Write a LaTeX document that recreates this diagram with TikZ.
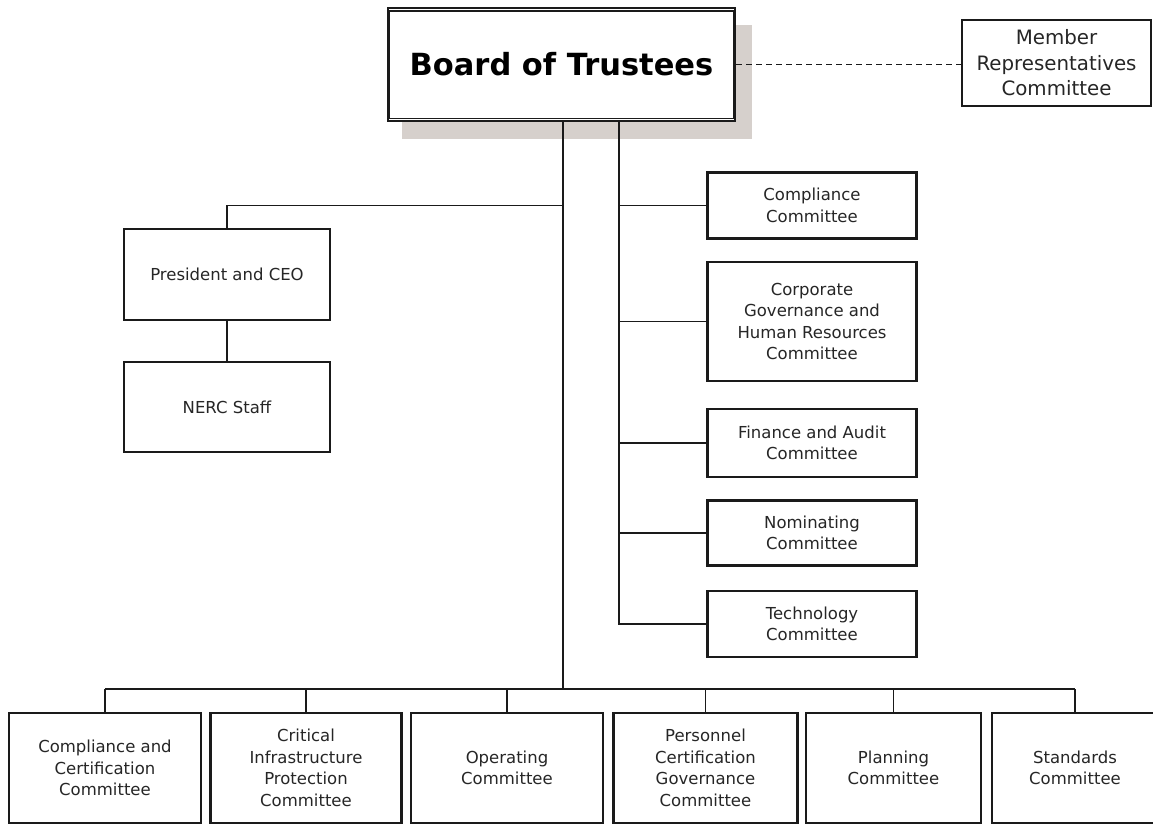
\documentclass[tikz,border=0pt]{standalone}
\usepackage{fontspec}
\setmainfont{DejaVu Sans}
\definecolor{shadowc}{HTML}{D6D0CC}
\definecolor{linec}{HTML}{1A1A1A}
\definecolor{textc}{HTML}{262626}
\tikzset{
  conn/.style={draw=linec, line width=1.9pt},
  box/.style={draw=linec, line width=2.2pt, fill=white, rectangle, inner sep=0pt,
    align=center, text=textc, font=\fontsize{16.5}{21.5}\selectfont},
  memberbox/.style={box, font=\fontsize{19.8}{25.5}\selectfont},
  boardbox/.style={draw=linec, line width=2.6pt, fill=white, rectangle, inner sep=0pt,
    align=center, text=black, font=\fontsize{30.5}{36}\selectfont\bfseries},
  dashconn/.style={draw=linec, line width=1.7pt, dash pattern=on 6pt off 4pt}
}
\begin{document}
\begin{tikzpicture}[x=1pt,y=-1pt]
\useasboundingbox (0,0) rectangle (1153,823);
\clip (0,0) rectangle (1153,823);
\fill[white] (0,0) rectangle (1153,823);

% shadow of board
\fill[shadowc] (402,25) rectangle (752,139);

% board
\node[boardbox, minimum width=347pt, minimum height=113pt] (board) at (561.5,64.5) {Board of Trustees};
\draw[linec, line width=1.2pt] ([xshift=2.5pt,yshift=-4.2pt]board.north west) rectangle ([xshift=-2.5pt,yshift=4.2pt]board.south east);

% member representatives
\node[memberbox, minimum width=189pt, minimum height=86pt] (member) at (1056.5,63) {Member\\Representatives\\Committee};
\draw[dashconn] (board.east) -- (board.east -| member.west);

% left column
\node[box, minimum width=206pt, minimum height=91pt] (president) at (227,274.5) {President and CEO};
\node[box, minimum width=206pt, minimum height=90pt] (staff) at (227,407) {NERC Staff};

% right committees
\node[box, minimum width=209pt, minimum height=66pt] (compliance) at (812,205.5) {Compliance\\Committee};
\node[box, minimum width=209pt, minimum height=119pt] (corporate) at (812,321.5) {Corporate\\Governance and\\Human Resources\\Committee};
\node[box, minimum width=209pt, minimum height=68pt] (finance) at (812,443) {Finance and Audit\\Committee};
\node[box, minimum width=209pt, minimum height=65pt] (nominating) at (812,533) {Nominating\\Committee};
\node[box, minimum width=209pt, minimum height=66pt] (technology) at (812,624) {Technology\\Committee};

% bottom row
\node[box, minimum width=192pt, minimum height=110pt] (cc) at (105,768) {Compliance and\\Certification\\Committee};
\node[box, minimum width=191pt, minimum height=110pt] (cip) at (306,768) {Critical\\Infrastructure\\Protection\\Committee};
\node[box, minimum width=192pt, minimum height=110pt] (oc) at (507,768) {Operating\\Committee};
\node[box, minimum width=184pt, minimum height=110pt] (pcg) at (705.5,768) {Personnel\\Certification\\Governance\\Committee};
\node[box, minimum width=175pt, minimum height=110pt] (pc) at (893.5,768) {Planning\\Committee};
\node[box, minimum width=166pt, minimum height=110pt] (sc) at (1075,768) {Standards\\Committee};

% connectors
\coordinate (trunk) at ([xshift=1.5pt]board.south);
\coordinate (rtrunk) at ([xshift=57.5pt]board.south);
\coordinate (bus) at (563,689);

\draw[conn] (trunk) -- (trunk |- bus);
\draw[conn] (president.north) |- (trunk |- compliance.west);
\draw[conn] (president.south) -- (staff.north);

\draw[conn] (rtrunk) |- (technology.west);
\draw[conn] (rtrunk |- compliance.west) -- (compliance.west);
\draw[conn] (rtrunk |- corporate.west) -- (corporate.west);
\draw[conn] (rtrunk |- finance.west) -- (finance.west);
\draw[conn] (rtrunk |- nominating.west) -- (nominating.west);

\draw[conn] (cc.north |- bus) -- (sc.north |- bus);
\foreach \b in {cc,cip,oc,pcg,pc,sc}{
  \draw[conn] (\b.north) -- (\b.north |- bus);
}
\end{tikzpicture}
\end{document}
